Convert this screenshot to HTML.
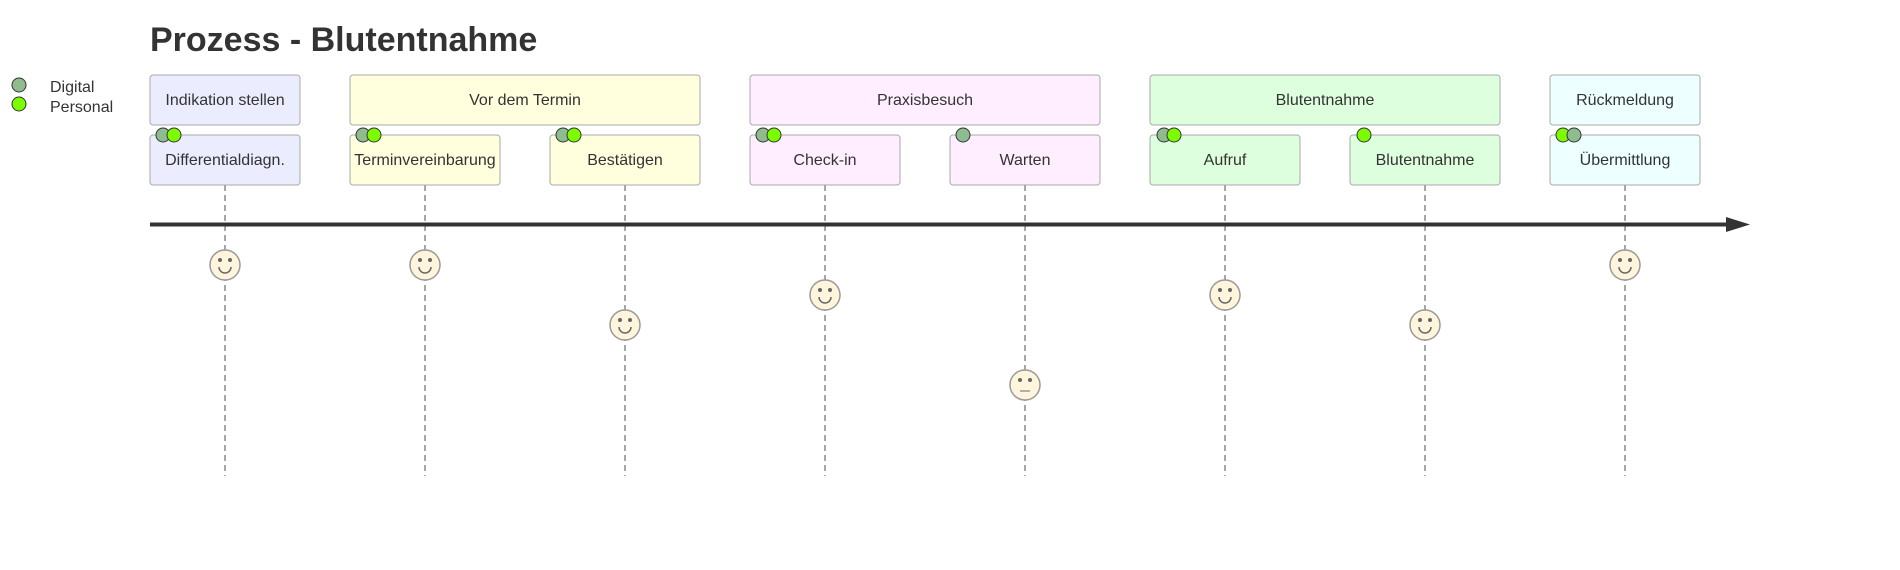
<!DOCTYPE html>
<html><head><meta charset="utf-8"><style>
html,body{margin:0;padding:0;background:#fff;}
svg text{font-family:"Liberation Sans",sans-serif;fill:#333;}
</style></head><body>
<svg width="1900" height="565" viewBox="0 0 1900 565" xmlns="http://www.w3.org/2000/svg">
<text x="150" y="51" font-size="34" font-weight="bold">Prozess - Blutentnahme</text>
<circle cx="19" cy="85" r="7" fill="#8fbc8f" stroke="#333" stroke-width="1"/>
<circle cx="19" cy="104" r="7" fill="#7cfc00" stroke="#333" stroke-width="1"/>
<text x="50" y="92" font-size="16">Digital</text>
<text x="50" y="112" font-size="16">Personal</text>
<g stroke="#888" stroke-width="1.5" stroke-dasharray="6,4">
<line x1="225" y1="185" x2="225" y2="476"/><line x1="425" y1="185" x2="425" y2="476"/><line x1="625" y1="185" x2="625" y2="476"/><line x1="825" y1="185" x2="825" y2="476"/><line x1="1025" y1="185" x2="1025" y2="476"/><line x1="1225" y1="185" x2="1225" y2="476"/><line x1="1425" y1="185" x2="1425" y2="476"/><line x1="1625" y1="185" x2="1625" y2="476"/>
</g>
<g stroke="#aaa" stroke-width="1">
<rect x="150" y="75" width="150" height="50" rx="3" fill="#ececff"/>
<rect x="350" y="75" width="350" height="50" rx="3" fill="#ffffde"/>
<rect x="750" y="75" width="350" height="50" rx="3" fill="#ffeeff"/>
<rect x="1150" y="75" width="350" height="50" rx="3" fill="#ddffdd"/>
<rect x="1550" y="75" width="150" height="50" rx="3" fill="#eeffff"/>
<rect x="150" y="135" width="150" height="50" rx="3" fill="#ececff"/>
<rect x="350" y="135" width="150" height="50" rx="3" fill="#ffffde"/>
<rect x="550" y="135" width="150" height="50" rx="3" fill="#ffffde"/>
<rect x="750" y="135" width="150" height="50" rx="3" fill="#ffeeff"/>
<rect x="950" y="135" width="150" height="50" rx="3" fill="#ffeeff"/>
<rect x="1150" y="135" width="150" height="50" rx="3" fill="#ddffdd"/>
<rect x="1350" y="135" width="150" height="50" rx="3" fill="#ddffdd"/>
<rect x="1550" y="135" width="150" height="50" rx="3" fill="#eeffff"/>
</g>
<g font-size="16" text-anchor="middle">
<text x="225" y="105">Indikation stellen</text>
<text x="525" y="105">Vor dem Termin</text>
<text x="925" y="105">Praxisbesuch</text>
<text x="1325" y="105">Blutentnahme</text>
<text x="1625" y="105">Rückmeldung</text>
<text x="225" y="165">Differentialdiagn.</text>
<text x="425" y="165">Terminvereinbarung</text>
<text x="625" y="165">Bestätigen</text>
<text x="825" y="165">Check-in</text>
<text x="1025" y="165">Warten</text>
<text x="1225" y="165">Aufruf</text>
<text x="1425" y="165">Blutentnahme</text>
<text x="1625" y="165">Übermittlung</text>
</g>
<g stroke="#333" stroke-width="1">
<circle cx="163" cy="135" r="7" fill="#8fbc8f"/><circle cx="174" cy="135" r="7" fill="#7cfc00"/>
<circle cx="363" cy="135" r="7" fill="#8fbc8f"/><circle cx="374" cy="135" r="7" fill="#7cfc00"/>
<circle cx="563" cy="135" r="7" fill="#8fbc8f"/><circle cx="574" cy="135" r="7" fill="#7cfc00"/>
<circle cx="763" cy="135" r="7" fill="#8fbc8f"/><circle cx="774" cy="135" r="7" fill="#7cfc00"/>
<circle cx="963" cy="135" r="7" fill="#8fbc8f"/>
<circle cx="1164" cy="135" r="7" fill="#8fbc8f"/><circle cx="1174" cy="135" r="7" fill="#7cfc00"/>
<circle cx="1364" cy="135" r="7" fill="#7cfc00"/>
<circle cx="1563" cy="135" r="7" fill="#7cfc00"/><circle cx="1574" cy="135" r="7" fill="#8fbc8f"/>
</g>
<line x1="150" y1="224.5" x2="1728" y2="224.5" stroke="#333" stroke-width="4"/>
<polygon points="1726,217 1750,224.5 1726,232" fill="#333"/>
<defs>
<g id="happy"><circle r="15" fill="#fff5dc" stroke="#999" stroke-width="1.5"/><circle cx="-5" cy="-5" r="2" fill="#666"/><circle cx="5" cy="-5" r="2" fill="#666"/><path d="M-6,2 A6,6 0 0 0 6,2" fill="none" stroke="#666" stroke-width="1.5"/></g>
<g id="neutral"><circle r="15" fill="#fff5dc" stroke="#999" stroke-width="1.5"/><circle cx="-5" cy="-5" r="2" fill="#666"/><circle cx="5" cy="-5" r="2" fill="#666"/><line x1="-5" y1="6" x2="5" y2="6" stroke="#999" stroke-width="1.5"/></g>
</defs>
<use href="#happy" x="225" y="265"/>
<use href="#happy" x="425" y="265"/>
<use href="#happy" x="625" y="325"/>
<use href="#happy" x="825" y="295"/>
<use href="#neutral" x="1025" y="385"/>
<use href="#happy" x="1225" y="295"/>
<use href="#happy" x="1425" y="325"/>
<use href="#happy" x="1625" y="265"/>
</svg>
</body></html>
